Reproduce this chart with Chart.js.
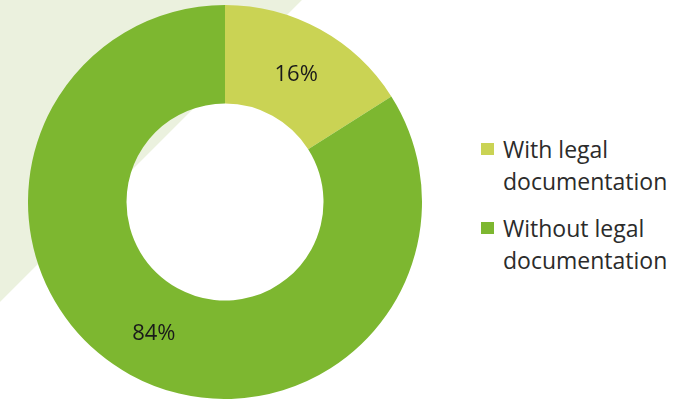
<!DOCTYPE html>
<html>
<head>
<meta charset="utf-8">
<script src="https://cdn.jsdelivr.net/npm/chart.js@4.4.0/dist/chart.umd.min.js"></script>
<style>
    html, body { margin: 0; padding: 0; }
    body {
        width: 684px; height: 400px; overflow: hidden; position: relative;
        background: linear-gradient(135deg, #ebf1de 0, #ebf1de 213px, #ffffff 214px);
        font-family: "Open Sans", sans-serif;
    }
    #chartDonut { position: absolute; left: 28px; top: 5px; }
    #legend { position: absolute; left: 481px; top: 133px; color: #2b2b2b; font-size: 23px; line-height: 32px; }
    .item { display: flex; align-items: flex-start; margin-bottom: 15px; }
    .box { width: 13px; height: 12px; margin-top: 10px; margin-right: 9px; flex: none; }
</style>
</head>
<body>
<canvas id="chartDonut" width="394" height="394"></canvas>
<div id="legend"></div>
<script>
var categories = ['With legal documentation', 'Without legal documentation'];
var legendLines = [['With legal', 'documentation'], ['Without legal', 'documentation']];
var shares = [16, 84];
var colours = ['#cad354', '#7db730'];

(function() {
    var labelPlugin = {
        id: 'sliceLabels',
        afterDatasetsDraw: function(chart) {
            var ctx = chart.ctx;
            var meta = chart.getDatasetMeta(0);
            ctx.save();
            ctx.font = '22px "Open Sans", sans-serif';
            ctx.fillStyle = '#1a1a1a';
            ctx.textAlign = 'center';
            ctx.textBaseline = 'middle';
            meta.data.forEach(function(arc, i) {
                var p = arc.tooltipPosition();
                ctx.fillText(shares[i] + '%', p.x, p.y + 2);
            });
            ctx.restore();
        }
    };

    new Chart(document.getElementById('chartDonut'), {
        type: 'doughnut',
        data: {
            labels: categories,
            datasets: [{
                data: shares,
                backgroundColor: colours,
                borderWidth: 0
            }]
        },
        options: {
            responsive: false,
            animation: false,
            cutout: '50%',
            plugins: { legend: { display: false }, tooltip: { enabled: false } }
        },
        plugins: [labelPlugin]
    });

    var legend = document.getElementById('legend');
    categories.forEach(function(name, i) {
        var item = document.createElement('div');
        item.className = 'item';
        var box = document.createElement('span');
        box.className = 'box';
        box.style.background = colours[i];
        var text = document.createElement('div');
        text.innerHTML = legendLines[i].join('<br>');
        item.appendChild(box);
        item.appendChild(text);
        legend.appendChild(item);
    });
})();
</script>
</body>
</html>
